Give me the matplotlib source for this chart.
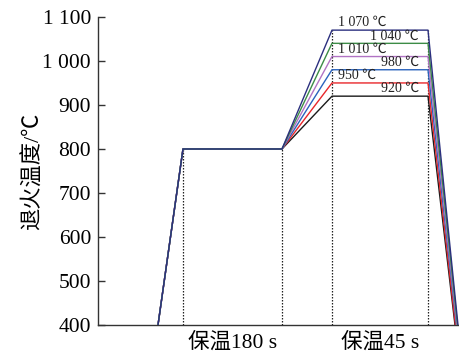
import matplotlib.pyplot as plt

plt.rcParams['font.family'] = ['Liberation Serif', 'Noto Sans CJK SC']

# annealing schedule (schematic time axis)
t_nodes = [60, 85, 184, 234, 330]
preheat_temp = 800
start_temp = 400
peak_temps = [1070, 1040, 1010, 980, 950, 920]
end_times = [360, 359.5, 359, 358.5, 357.5, 357]
peak_labels = ['1 070 ℃', '1 040 ℃', '1 010 ℃', '980 ℃', '950 ℃', '920 ℃']
colors = ['#2b2f7e', '#3c8c46', '#b173c4', '#2a63bd', '#e8262a', '#1a1a1a']
hold_names = ['保温180 s', '保温45 s']
yticks = [400, 500, 600, 700, 800, 900, 1000, 1100]
ytick_labels = ['400', '500', '600', '700', '800', '900', '1 000', '1 100']

fig = plt.figure(figsize=(4.6, 3.6), dpi=100)
ax = fig.add_axes([0.213, 0.097, 0.787, 0.856])

# draw lowest first so the 1070 curve sits on top of the shared segments
for temp, t_end, col in list(zip(peak_temps, end_times, colors))[::-1]:
    times = t_nodes + [t_end]
    temps = [start_temp, preheat_temp, preheat_temp, temp, temp, start_temp]
    ax.plot(times, temps, color=col, lw=1.0, zorder=3)

# dotted guides marking the holding stages
guide_x = [t_nodes[1], t_nodes[2], t_nodes[3], t_nodes[4]]
guide_top = [preheat_temp, preheat_temp, max(peak_temps), max(peak_temps)]
for gx, gt in zip(guide_x, guide_top):
    ax.plot([gx, gx], [start_temp, gt], color='#222222', lw=0.9,
            ls=(0, (1.2, 1.2)), zorder=2)

# peak temperature labels, alternating left / right
for i, (temp, lab) in enumerate(zip(peak_temps, peak_labels)):
    if i % 2 == 0:
        ax.text(t_nodes[3] + 6, temp + 2, lab, ha='left', va='bottom',
                fontsize=10, color='#222222')
    else:
        ax.text(t_nodes[4] - 9, temp + 2, lab, ha='right', va='bottom',
                fontsize=10, color='#222222')

ax.set_xlim(0, 362)
ax.set_ylim(400, 1100)
ax.set_yticks(yticks)
ax.set_yticklabels(ytick_labels, fontsize=15.5)
ax.set_xticks([(t_nodes[1] + t_nodes[2]) / 2, (t_nodes[3] + t_nodes[4]) / 2])
ax.set_xticklabels(hold_names, fontsize=15.5)
ax.tick_params(axis='y', direction='in', length=5, width=1, color='#333333',
               pad=5)
ax.tick_params(axis='x', length=0, pad=5)
ax.set_ylabel('退火温度/℃', fontsize=16)
ax.yaxis.set_label_coords(-0.15, 0.5)

for side in ['top', 'right']:
    ax.spines[side].set_visible(False)
for side in ['left', 'bottom']:
    ax.spines[side].set_color('#333333')
    ax.spines[side].set_linewidth(1.0)

fig.savefig('out.png', dpi=100)
